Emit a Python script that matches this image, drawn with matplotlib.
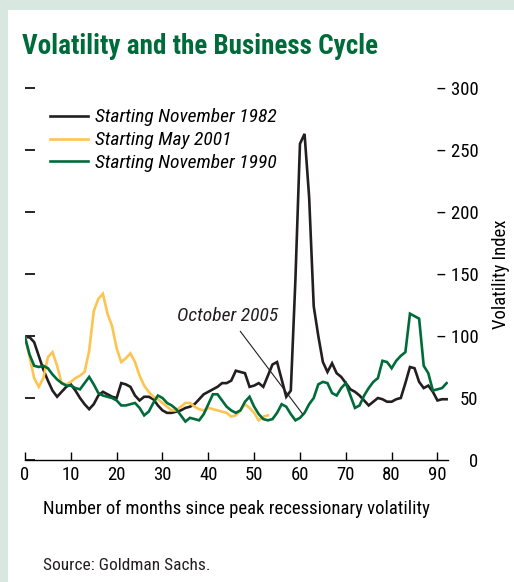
import numpy as np
import matplotlib
matplotlib.use('Agg')
import matplotlib.pyplot as plt
from matplotlib.patches import Rectangle

# -------------------------- data --------------------------
nov_1982 = [99, 99, 95, 84, 73, 64, 56, 51, 55, 59,
            61, 56, 50, 45, 41, 45, 52, 55, 53, 51,
            50, 62, 61, 59, 52, 48, 51, 51, 49, 44,
            40, 38, 38, 39, 40, 42, 43, 45, 49, 53,
            55, 57, 59, 62, 62, 64, 72, 71, 70, 59,
            60, 62, 59, 68, 77, 79, 65, 51, 56, 145,
            255, 263, 212, 124, 100, 79, 71, 78, 70, 67,
            62, 57, 55, 52, 48, 44, 47, 50, 49, 47,
            47, 49, 50, 62, 75, 74, 63, 58, 60, 55,
            48, 49, 49]

may_2001 = [99, 83, 66, 59, 66, 83, 87, 76, 62, 61,
            63, 66, 68, 71, 88, 120, 130, 134, 118, 108,
            90, 79, 82, 86, 79, 68, 60, 55, 51, 49,
            46, 43, 40, 40, 43, 46, 46, 43, 41, 40,
            42, 41, 40, 39, 38, 35, 36, 40, 45, 42,
            38, 32, 35, 36]

nov_1990 = [99, 85, 76, 75, 76, 74, 69, 65, 62, 60,
            60, 58, 57, 62, 67, 61, 54, 52, 51, 50,
            48, 44, 44, 45, 46, 42, 36, 39, 46, 52,
            50, 46, 44, 41, 36, 31, 34, 33, 32, 37,
            45, 53, 53, 48, 43, 40, 38, 40, 47, 51,
            43, 37, 33, 32, 33, 38, 45, 43, 37, 32,
            34, 38, 45, 50, 61, 63, 62, 54, 52, 58,
            62, 52, 42, 44, 52, 58, 63, 66, 80, 79,
            74, 80, 84, 87, 118, 116, 114, 76, 70, 56,
            57, 58, 62]

series_names = ['Starting November 1982', 'Starting May 2001', 'Starting November 1990']
series_colors = ['#231f20', '#fdc451', '#006b3a']

x_ticks = [0, 10, 20, 30, 40, 50, 60, 70, 80, 90]
y_ticks = [0, 50, 100, 150, 200, 250, 300]
y_ticklabels = ['0', '50', '\u2013 100', '\u2013 150', '\u2013 200', '\u2013 250', '\u2013 300']

# condensed face, like the original's
plt.rcParams['font.family'] = ['Roboto Condensed', 'Liberation Sans', 'DejaVu Sans']

# -------------------------- figure ----------------------------------------
fig = plt.figure(figsize=(5.14, 5.82), dpi=100)
fig.patch.set_facecolor('#d8e7df')
fig.patches.append(Rectangle((8/514, 0), 1, 1 - 10/582, transform=fig.transFigure,
                             facecolor='white', edgecolor='none', zorder=-5))

ax = fig.add_axes([25/514, 122/582, 423/514, 372/582])
ax.set_facecolor('none')
ax.set_zorder(2)

for data, name, col in zip([nov_1982, may_2001, nov_1990], series_names, series_colors):
    ax.plot(np.arange(len(data)), data, color=col, lw=1.9, label=name,
            solid_joinstyle='miter')

ax.set_xlim(0, 92.3)
ax.set_ylim(0, 300)

for s in ['top', 'left', 'right']:
    ax.spines[s].set_visible(False)
ax.spines['bottom'].set_linewidth(1.0)

ax.set_xticks(x_ticks)
ax.set_xticklabels([str(t) for t in x_ticks])
ax.tick_params(axis='x', direction='in', length=5.5, width=1.0, pad=4, labelsize=13.5)

ax.set_yticks(y_ticks)
ax.set_yticklabels(y_ticklabels)
ax.tick_params(axis='y', left=True, right=False, labelleft=False, labelright=True,
               direction='in', length=7, width=1.2, pad=22, labelsize=13.5)
for lab in ax.get_yticklabels():
    lab.set_horizontalalignment('right')

ax.yaxis.set_label_position('right')
ax.set_ylabel('Volatility Index', fontsize=13.5, labelpad=10)
ax.set_xlabel('Number of months since peak recessionary volatility', fontsize=13.5, labelpad=12)

ax.legend(loc='upper left', bbox_to_anchor=(0.058, 0.945), frameon=False,
          prop={'style': 'italic', 'size': 14}, handlelength=2.0,
          handletextpad=0.35, labelspacing=0.25, borderpad=0, borderaxespad=0)

ax.annotate('October 2005', xy=(60.6, 37), xytext=(44.2, 116), ha='center', va='center',
            fontsize=14, style='italic', color='#231f20',
            arrowprops=dict(arrowstyle='-', color='#231f20', lw=0.8,
                            relpos=(0.58, 0), shrinkA=3, shrinkB=0))

fig.text(22/514, 1 - 47/582, 'Volatility and the Business Cycle', fontsize=19.5,
         fontweight='bold', color='#006b3a', va='center', ha='left')
fig.text(43/514, 1 - 565/582, 'Source: Goldman Sachs.', fontsize=12.5,
         color='#231f20', va='center', ha='left')

fig.savefig('out.png', dpi=100, facecolor=fig.get_facecolor())
